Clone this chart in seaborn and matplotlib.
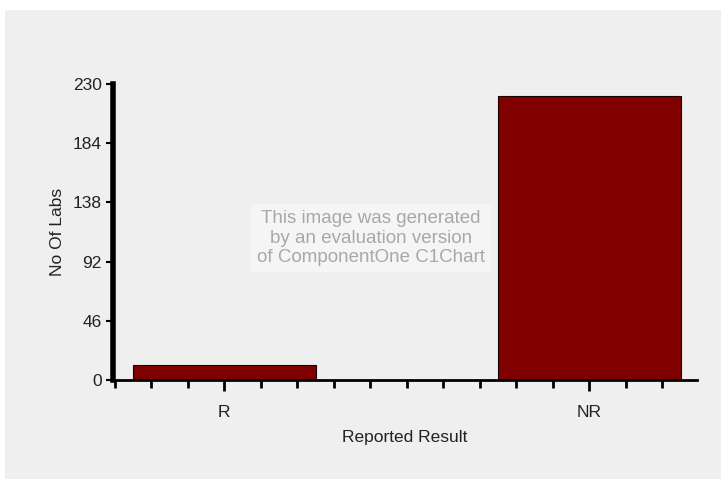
import pandas as pd
import seaborn as sns
import matplotlib.pyplot as plt
from matplotlib.patches import Rectangle
from matplotlib.ticker import MultipleLocator, FixedLocator

categories = ['R', 'NR']
labs = [12, 221]
y_ticks = [0, 46, 92, 138, 184, 230]

df = pd.DataFrame({'Reported Result': categories, 'No Of Labs': labs})

sns.set_style('white')
plt.rcParams['font.family'] = ['Liberation Sans', 'DejaVu Sans']

fig = plt.figure(figsize=(7.21, 4.79), dpi=100)
fig.patch.set_facecolor('white')
# grey chart area (leaves a thin white margin top/left like the original)
fig.patches.append(Rectangle((5 / 721, 0), 1 - 5 / 721, 1 - 10 / 479,
                             transform=fig.transFigure, facecolor='#efefef',
                             edgecolor='none', zorder=-10))

ax = fig.add_axes([0.1567, 0.2067, 0.81, 0.618])
ax.set_facecolor('none')

sns.barplot(data=df, x='Reported Result', y='No Of Labs', color='#800000',
            width=0.5, edgecolor='#1a0000', linewidth=0.8, saturation=1, ax=ax)

ax.set_xlim(-0.305, 1.295)
ax.set_ylim(0, 230)
ax.yaxis.set_major_locator(FixedLocator(y_ticks))
ax.xaxis.set_minor_locator(MultipleLocator(0.1))

for s in ['top', 'right']:
    ax.spines[s].set_visible(False)
ax.spines['left'].set_linewidth(4)
ax.spines['bottom'].set_linewidth(2)
ax.spines['left'].set_color('black')
ax.spines['bottom'].set_color('black')

ax.tick_params(axis='y', which='major', left=True, direction='out', length=5,
               width=1.5, color='black', labelsize=12.5, labelcolor='#222222', pad=3)
ax.tick_params(axis='x', which='major', bottom=True, direction='out', length=8,
               width=2, color='black', labelsize=12.5, labelcolor='#222222', pad=10)
ax.tick_params(axis='x', which='minor', bottom=True, direction='out', length=6,
               width=2, color='black')

ax.set_xlabel('Reported Result', fontsize=12.5, color='#222222', labelpad=7)
ax.set_ylabel('No Of Labs', fontsize=12.5, color='#222222', labelpad=6)

# evaluation watermark
fig.text(0.5146, 0.503,
         'This image was generated\nby an evaluation version\nof ComponentOne C1Chart',
         ha='center', va='center', fontsize=13.5, color='#a8a8a8',
         linespacing=1.2,
         bbox=dict(facecolor='#f5f5f5', edgecolor='none', pad=4))

plt.savefig('out.png', dpi=100, facecolor=fig.get_facecolor())
